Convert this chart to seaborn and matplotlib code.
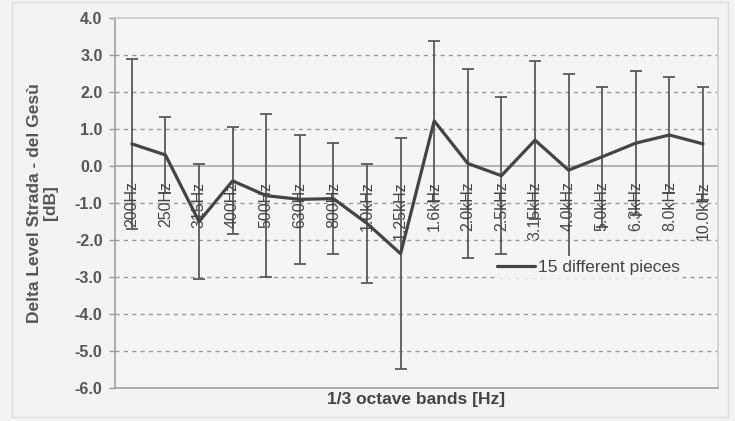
import numpy as np
import pandas as pd
import seaborn as sns
import matplotlib.pyplot as plt
from matplotlib.patches import Rectangle

# -----------------------------
# Data
# -----------------------------
bands = ["200Hz", "250Hz", "315Hz", "400Hz", "500Hz", "630Hz", "800Hz",
         "1.0kHz", "1.25kHz", "1.6kHz", "2.0kHz", "2.5kHz", "3.15kHz",
         "4.0kHz", "5.0kHz", "6.3kHz", "8.0kHz", "10.0kHz"]
mean_delta = [0.6, 0.3, -1.5, -0.4, -0.8, -0.9, -0.88, -1.55, -2.37,
              1.22, 0.07, -0.26, 0.7, -0.11, 0.25, 0.62, 0.84, 0.6]
std_delta = [2.3, 1.02, 1.55, 1.45, 2.2, 1.75, 1.5, 1.6, 3.12,
             2.16, 2.55, 2.12, 2.14, 2.6, 1.9, 1.95, 1.56, 1.53]
y_ticks = [4.0, 3.0, 2.0, 1.0, 0.0, -1.0, -2.0, -3.0, -4.0, -5.0, -6.0]

df = pd.DataFrame({"band": bands, "pos": range(len(bands)),
                   "mean": mean_delta, "std": std_delta})

# -----------------------------
# Style
# -----------------------------
sns.set_style("white")
plt.rcParams["font.family"] = ["Liberation Sans", "DejaVu Sans"]

fig = plt.figure(figsize=(7.35, 4.21), dpi=100, facecolor="#f3f3f3")
ax = fig.add_axes([0.1565, 0.0784, 0.8205, 0.8786])
ax.set_facecolor("#f5f5f5")

# outer chart frame
fig.patches.append(Rectangle((0.016, 0.01), 0.975, 0.985, transform=fig.transFigure,
                             fill=False, edgecolor="#dcdcdc", lw=1.0))

# grid
for v in y_ticks:
    if v in (4.0, 0.0):
        continue
    ax.axhline(v, color="#9a9a9a", lw=1.0, ls=(0, (3, 3)), zorder=0)
ax.axhline(0.0, color="#a8a8a8", lw=1.2, zorder=1)

# error bars
ax.errorbar(df["pos"], df["mean"], yerr=df["std"], fmt="none",
            ecolor="#5a5a5a", elinewidth=1.3, capsize=4, capthick=1.3, zorder=2)

# mean line
sns.lineplot(data=df, x="pos", y="mean", color="#444444", lw=2.3,
             label="15 different pieces", ax=ax, zorder=3)

# category labels, inside the plot under the zero line
for i, b in enumerate(bands):
    ax.text(i, -0.42, b, rotation=90, ha="center", va="top",
            fontsize=11.5, color="#444444", zorder=4)

ax.set_xlim(-0.5, 17.45)
ax.set_ylim(-6.0, 4.0)
ax.set_xticks([])
ax.set_yticks(y_ticks)
ax.set_yticklabels([f"{v:.1f}" for v in y_ticks], fontsize=11.5,
                   fontweight="bold", color="#555555")
ax.tick_params(axis="y", length=4, width=1, color="#999999", left=True, pad=5)

for s in ax.spines.values():
    s.set_color("#a0a0a0")
    s.set_linewidth(1.2)
ax.spines["top"].set_color("#c8c8c8")
ax.spines["right"].set_color("#d0d0d0")

ax.set_xlabel("1/3 octave bands [Hz]", fontsize=12.5, fontweight="bold",
              color="#444444", labelpad=3)
ax.set_ylabel("Delta Level Strada - del Gesù\n[dB]", fontsize=12.5,
              fontweight="bold", color="#555555", labelpad=12, linespacing=1.1)

leg = ax.legend(loc="center", bbox_to_anchor=(0.785, 0.327), frameon=True,
                fontsize=12.5, handlelength=2.2, handletextpad=0.2,
                borderpad=0.2, labelcolor="#444444")
leg.get_frame().set_facecolor("#f5f5f5")
leg.get_frame().set_edgecolor("none")
leg.get_frame().set_alpha(1.0)

fig.savefig("out.png", dpi=100, facecolor=fig.get_facecolor())
